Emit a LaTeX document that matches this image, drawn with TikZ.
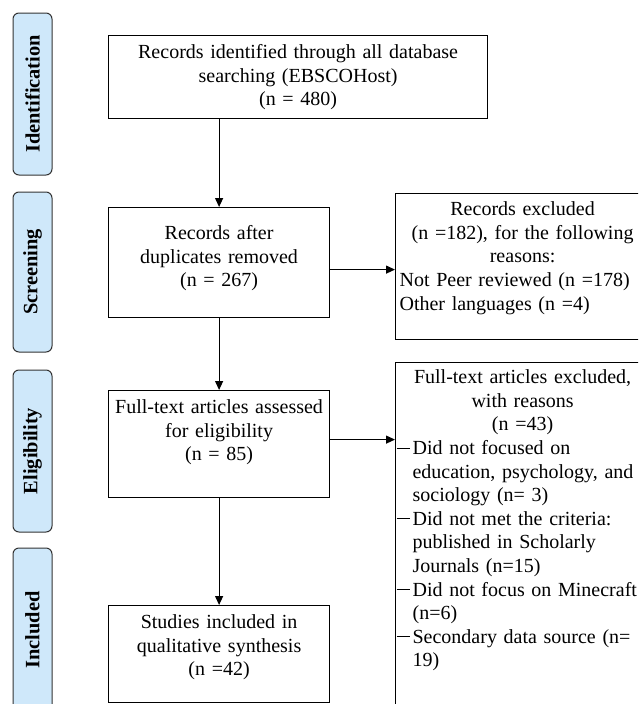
\documentclass[tikz,border=0pt]{standalone}
\usepackage{fontspec}
\setmainfont{Liberation Serif}
\usetikzlibrary{arrows.meta}

\definecolor{phaseblue}{RGB}{207,232,250}
\newcommand{\boxfont}{\fontsize{20}{23.6}\selectfont}
\newcommand{\dashitem}{\hspace*{-3pt}\makebox[16pt][l]{\rule[6pt]{13pt}{0.9pt}}}

\tikzset{
  phase/.style={draw=black!80, fill=phaseblue, rounded corners=6pt, line width=1pt,
    rotate=90, minimum height=39pt, inner sep=0pt, font=\fontsize{20.4}{24}\selectfont\bfseries},
  box/.style={draw, line width=1.2pt, anchor=north west, inner xsep=4pt,
    inner ysep=0pt, font=\boxfont},
  flow/.style={line width=1.2pt, -{Triangle[length=9pt,width=8pt]}}
}

\begin{document}
\begin{tikzpicture}[x=1pt,y=-1pt]
\useasboundingbox (0,0) rectangle (638,704);
\clip (0,0) rectangle (638,704);

% phases
\node[phase, minimum width=162pt] (ident) at (32.5,94) {Identification};
\node[phase, minimum width=160pt] (screen) at (32.5,272) {Screening};
\node[phase, minimum width=162pt] (elig) at (32.5,451) {Eligibility};
\node[phase, minimum width=164pt] (incl) at (32.5,630) {Included};

% main column
\node[box, text width=371pt, align=center, text height=23pt, text depth=60pt] (records) at (108,35)
  {Records identified through all database\\ searching (EBSCOHost)\\ (n = 480)};
\node[box, text width=213pt, align=center, text height=32pt, text depth=78pt] (dupes) at (108,207)
  {Records after\\ duplicates removed\\ (n = 267)};
\node[box, text width=213pt, align=center, text height=23pt, text depth=84pt] (fulltext) at (108,390)
  {Full-text articles assessed\\ for eligibility\\ (n = 85)};
\node[box, text width=213pt, align=center, text height=23pt, text depth=74pt] (studies) at (108,605)
  {Studies included in\\ qualitative synthesis\\ (n =42)};

% exclusions
\node[box, text width=246pt, align=left, text height=22pt, text depth=124pt] (excl) at (395,193)
  {{\centering Records excluded\\ (n =182), for the following\\ reasons:\par}%
   Not Peer reviewed (n =178)\\ Other languages (n =4)};
\node[box, text width=246pt, align=left, text height=21pt, text depth=339pt] (exclft) at (395,362)
  {{\centering Full-text articles excluded,\\ with reasons\\ (n =43)\par}%
   \dashitem Did not focused on\\
   \hspace*{13pt}education, psychology, and\\
   \hspace*{13pt}sociology (n= 3)\\
   \dashitem Did not met the criteria:\\
   \hspace*{13pt}published in Scholarly\\
   \hspace*{13pt}Journals (n=15)\\
   \dashitem Did not focus on Minecraft\\
   \hspace*{13pt}(n=6)\\
   \dashitem Secondary data source (n=\\
   \hspace*{13pt}19)};

% arrows
\draw[flow] (records.south -| dupes.north) -- (dupes.north);
\draw[flow] (dupes.south) -- (fulltext.north);
\draw[flow] (fulltext.south) -- (studies.north);
\draw[flow] ([yshift=-7pt]dupes.east) -- ([yshift=-7pt]dupes.east -| excl.west);
\draw[flow] ([yshift=4.5pt]fulltext.east) -- ([yshift=4.5pt]fulltext.east -| exclft.west);
\end{tikzpicture}
\end{document}
